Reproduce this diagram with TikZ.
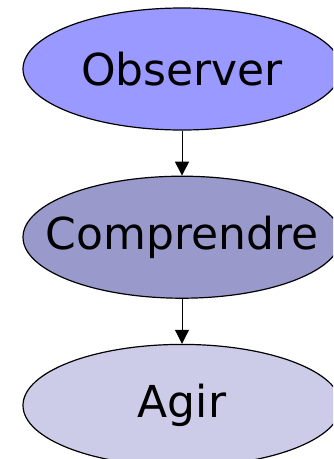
\documentclass[tikz,border=0pt]{standalone}
\usepackage{fontspec}
\setmainfont{DejaVu Sans}
\usetikzlibrary{positioning}
\usetikzlibrary{shapes}
\usetikzlibrary{arrows.meta}
\definecolor{observerfill}{RGB}{153,153,255}
\definecolor{comprendrefill}{RGB}{153,153,204}
\definecolor{agirfill}{RGB}{204,204,232}

\begin{document}
\begin{tikzpicture}
    [%
        step box/.style={%
            draw,%
            ellipse,%
            line width=1.2pt,%
            minimum width=318pt,%
            minimum height=122pt,%
            inner xsep=-80pt,%
            inner ysep=0pt,%
            font=\fontsize{44}{52}\selectfont%
        },%
        flow/.style={%
            draw,%
            line width=1pt,%
            -{Triangle[length=14pt,width=14pt]}%
        },%
        node distance=45pt%
    ]%
%
    % picture frame, the ellipses run over its edges
    \path[use as bounding box,clip] (0,0) rectangle (333pt,-459pt);
%
    \node[step box,fill=observerfill] (observer) at (182pt,-69pt) {Observer};
    \node[step box,fill=comprendrefill,below=of observer] (comprendre) {Comprendre};
    \node[step box,fill=agirfill,below=of comprendre] (agir) {Agir};
%
    % arrows between the steps
    \draw[flow] (observer) -- (comprendre);
    \draw[flow] (comprendre) -- (agir);
\end{tikzpicture}
\end{document}
